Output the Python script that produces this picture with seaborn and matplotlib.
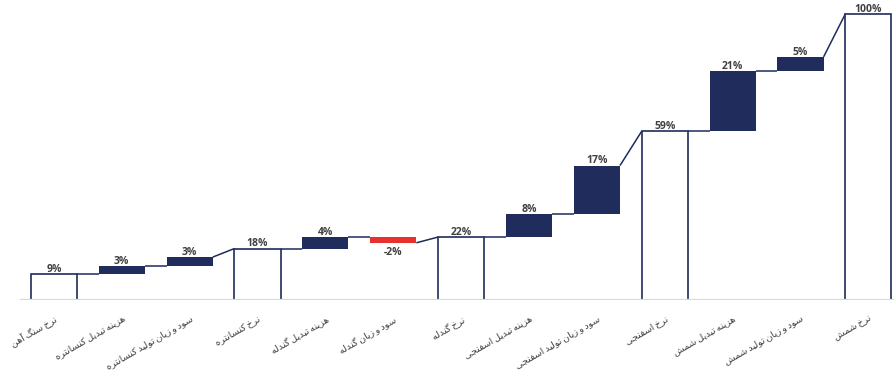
import matplotlib
matplotlib.use("Agg")
import matplotlib.pyplot as plt
import seaborn as sns
import pandas as pd
import numpy as np

# ---- data ----
categories = [
    "نرخ سنگ آهن",
    "هزینه تبدیل کنسانتره",
    "سود و زیان تولید کنسانتره",
    "نرخ کنسانتره",
    "هزینه تبدیل گندله",
    "سود و زیان گندله",
    "نرخ گندله",
    "هزینه تبدیل اسفنجی",
    "سود و زیان تولید اسفنجی",
    "نرخ اسفنجی",
    "هزینه تبدیل شمش",
    "سود و زیان تولید شمش",
    "نرخ شمش",
]
values = [9, 3, 3, 18, 4, -2, 22, 8, 17, 59, 21, 5, 100]
is_total = [True, False, False, True, False, False, True, False, False, True, False, False, True]
value_labels = ["9%", "3%", "3%", "18%", "4%", "-2%", "22%", "8%", "17%", "59%", "21%", "5%", "100%"]

NAVY = "#1F2C5C"
RED = "#E8302E"
TEXT = "#404040"

# ---- minimal Persian shaping for matplotlib (logical -> visual) ----
FORMS = {
    'ا': (0xFE8D, 0xFE8E), 'آ': (0xFE81, 0xFE82),
    'ب': (0xFE8F, 0xFE90, 0xFE91, 0xFE92), 'پ': (0xFB56, 0xFB57, 0xFB58, 0xFB59),
    'ت': (0xFE95, 0xFE96, 0xFE97, 0xFE98), 'ج': (0xFE9D, 0xFE9E, 0xFE9F, 0xFEA0),
    'خ': (0xFEA5, 0xFEA6, 0xFEA7, 0xFEA8), 'د': (0xFEA9, 0xFEAA),
    'ر': (0xFEAD, 0xFEAE), 'ز': (0xFEAF, 0xFEB0),
    'س': (0xFEB1, 0xFEB2, 0xFEB3, 0xFEB4), 'ش': (0xFEB5, 0xFEB6, 0xFEB7, 0xFEB8),
    'ف': (0xFED1, 0xFED2, 0xFED3, 0xFED4), 'ک': (0xFB8E, 0xFB8F, 0xFB90, 0xFB91),
    'گ': (0xFB92, 0xFB93, 0xFB94, 0xFB95), 'ل': (0xFEDD, 0xFEDE, 0xFEDF, 0xFEE0),
    'م': (0xFEE1, 0xFEE2, 0xFEE3, 0xFEE4), 'ن': (0xFEE5, 0xFEE6, 0xFEE7, 0xFEE8),
    'ه': (0xFEE9, 0xFEEA, 0xFEEB, 0xFEEC), 'و': (0xFEED, 0xFEEE),
    'ی': (0xFBFC, 0xFBFD, 0xFBFE, 0xFBFF),
}


def shape(s):
    out = []
    for i, c in enumerate(s):
        if c not in FORMS:
            out.append("\u2009" if c == " " else c)
            continue
        f = FORMS[c]
        prev = s[i - 1] if i > 0 else None
        nxt = s[i + 1] if i + 1 < len(s) else None
        jp = prev in FORMS and len(FORMS[prev]) == 4
        jn = len(f) == 4 and nxt in FORMS
        if jp and jn:
            g = f[3]
        elif jp:
            g = f[1]
        elif jn:
            g = f[2]
        else:
            g = f[0]
        out.append(chr(g))
    return "".join(reversed(out))


# ---- waterfall geometry ----
starts, ends = [], []
running = 0
for v, t in zip(values, is_total):
    if t:
        s, e = 0, v
    else:
        s, e = running, running + v
    running = e
    starts.append(s)
    ends.append(e)

df = pd.DataFrame({
    "category": categories,
    "height": np.array(ends) - np.array(starts),
    "bottom": starts,
})

sns.set_theme(style="white")
plt.rcParams["font.family"] = ["DejaVu Sans"]

fig = plt.figure(figsize=(8.94, 3.79), dpi=100)
ax = fig.add_axes([20 / 894, 1 - 300 / 379, 1 - 20 / 894, 300 / 379])

W = 0.68
sns.barplot(data=df, x="category", y="height", bottom=df["bottom"].values,
            color=NAVY, width=W, ax=ax, zorder=2)

for p, v, t in zip(ax.patches, values, is_total):
    if t:
        p.set_facecolor("white")
        p.set_edgecolor(NAVY)
        p.set_linewidth(1.2)
    elif v < 0:
        p.set_facecolor(RED)
        p.set_edgecolor("none")
    else:
        p.set_facecolor(NAVY)
        p.set_edgecolor("none")

# connectors
n = len(values)
for i in range(n - 1):
    y1 = ends[i]
    y2 = ends[i + 1] if is_total[i + 1] else starts[i + 1]
    ax.plot([i + W / 2, i + 1 - W / 2], [y1, y2], color=NAVY, lw=1.1,
            zorder=1, solid_capstyle="butt")

# value labels
for i, (v, lab) in enumerate(zip(values, value_labels)):
    if v >= 0:
        ax.text(i, max(starts[i], ends[i]) - 0.3, lab, ha="center", va="bottom",
                fontsize=7.5, fontweight="bold", color=TEXT, family="Open Sans")
    else:
        ax.text(i, min(starts[i], ends[i]) - 1.6, lab, ha="center", va="top",
                fontsize=7.5, fontweight="bold", color=TEXT, family="Open Sans")

ax.axhline(0, color="#D9D9D9", lw=1.6, zorder=5)

ax.set_xlim(-0.5, (894 - 20) / 67.87 - 0.5)
ax.set_ylim(0, 300 / 2.86)
ax.set_xlabel("")
ax.set_ylabel("")
ax.set_yticks([])
ax.set_xticks(range(n))
ax.set_xticklabels([shape(c) for c in categories])
for lbl in ax.get_xticklabels():
    lbl.set_rotation(30)
    lbl.set_ha("right")
    lbl.set_rotation_mode("anchor")
    lbl.set_fontsize(6.8)
    lbl.set_color(TEXT)
ax.tick_params(axis="x", length=0, pad=10)
for sp in ax.spines.values():
    sp.set_visible(False)

fig.savefig("out.png", dpi=100)
